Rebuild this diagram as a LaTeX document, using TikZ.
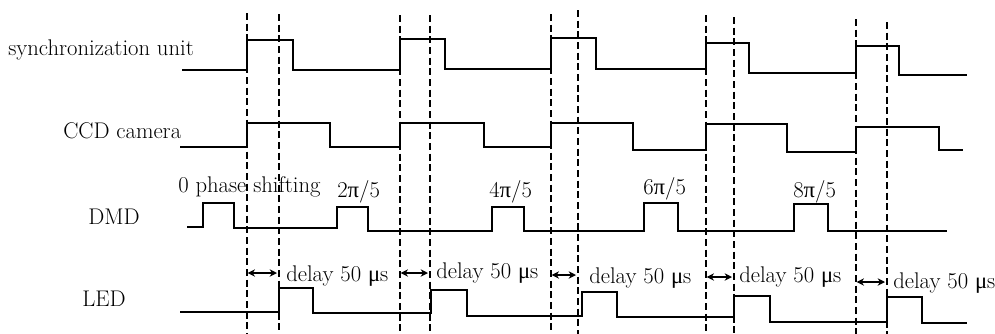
\documentclass[tikz,border=0pt]{standalone}
\usepackage{fontspec}
\newfontfamily\grk{Liberation Serif}
\usetikzlibrary{arrows.meta}
\begin{document}
\begin{tikzpicture}[x=0.75pt,y=-0.75pt,
  sig/.style={line width=2.1pt, line join=miter},
  guide/.style={line width=1.9pt, dash pattern=on 5.2pt off 2.8pt},
  gap/.style={line width=1.4pt, {Stealth[length=5.5pt,width=5.5pt]}-{Stealth[length=5.5pt,width=5.5pt]}, shorten >=1.5pt, shorten <=0.5pt},
  lbl/.style={font=\fontsize{17}{20}\selectfont\addfontfeature{FakeBold=0.5}, inner sep=0pt, anchor=base west}]
\useasboundingbox (0,0) rectangle (995,333);
% guide lines and delay arrows
\foreach \i/\xa/\xb/\ta/\tb/\ya in {1/247/279/13/14/273, 2/400/430/15/15/273, 3/551/578/14/10/275, 4/706/734/15/17/277, 5/856/887/19/22/282}{
  \coordinate (ga\i) at (\xa,\ta);
  \coordinate (gb\i) at (\xb,\tb);
  \coordinate (ea\i) at (\xa,335);
  \coordinate (eb\i) at (\xb,335);
  \coordinate (aa\i) at (\xa,\ya);
  \coordinate (ab\i) at (\xb,\ya);
  \draw[guide] (ga\i) -- (ea\i);
  \draw[guide] (gb\i) -- (eb\i);
  \draw[gap] (aa\i) -- (ab\i);
}
% synchronization unit
\draw[sig] (182,70) -- (247,70) -- (247,40) -- (293,40) -- (293,70) -- (400,70) -- (400,39) -- (445,39) -- (445,69) -- (551,69) -- (551,38) -- (596,38) -- (596,69) -- (706,69) -- (706,43) -- (749,43) -- (749,73) -- (856,73) -- (856,46) -- (899,46) -- (899,75) -- (967,75);
% CCD camera
\draw[sig] (180,147) -- (247,147) -- (247,123) -- (330,123) -- (330,147) -- (400,147) -- (400,123) -- (484,123) -- (484,147) -- (551,147) -- (551,123) -- (633,123) -- (633,150) -- (706,150) -- (706,124) -- (787,124) -- (787,152) -- (856,152) -- (856,127) -- (939,127) -- (939,150) -- (963,150);
% DMD
\draw[sig] (187,227) -- (203,227) -- (203,203) -- (234,203) -- (234,228) -- (337,228) -- (337,207) -- (368,207) -- (368,231) -- (492,231) -- (492,207) -- (524,207) -- (524,231) -- (644,231) -- (644,203) -- (678,203) -- (678,231) -- (794,231) -- (794,204) -- (828,204) -- (828,231) -- (947,231);
% LED
\draw[sig] (180,312) -- (279,312) -- (279,288) -- (313,288) -- (313,313) -- (431,313) -- (431,290) -- (467,290) -- (467,316) -- (582,316) -- (582,292) -- (617,292) -- (617,317) -- (734,317) -- (734,296) -- (770,296) -- (770,322) -- (887,322) -- (887,297) -- (922,297) -- (922,323) -- (967,323);
% row labels
\node[lbl] (sync) at (8,55) {synchronization unit};
\node[lbl] (ccd) at (63,138) {CCD camera};
\node[lbl] (dmd) at (88,224) {DMD};
\node[lbl] (led) at (82,306) {LED};
% phase labels
\node[lbl] (p0) at (178,192) {0 phase shifting};
\node[lbl] (p2) at (337,197) {2{\grk π}/5};
\node[lbl] (p4) at (489,197) {4{\grk π}/5};
\node[lbl] (p6) at (643,194) {6{\grk π}/5};
\node[lbl] (p8) at (793,197) {8{\grk π}/5};
% delay labels
\node[lbl] (d1) at (286,281) {delay 50 {\grk μ}s};
\node[lbl] (d2) at (436,278) {delay 50 {\grk μ}s};
\node[lbl] (d3) at (589,283) {delay 50 {\grk μ}s};
\node[lbl] (d4) at (739,282) {delay 50 {\grk μ}s};
\node[lbl] (d5) at (893,288) {delay 50 {\grk μ}s};
\end{tikzpicture}
\end{document}
